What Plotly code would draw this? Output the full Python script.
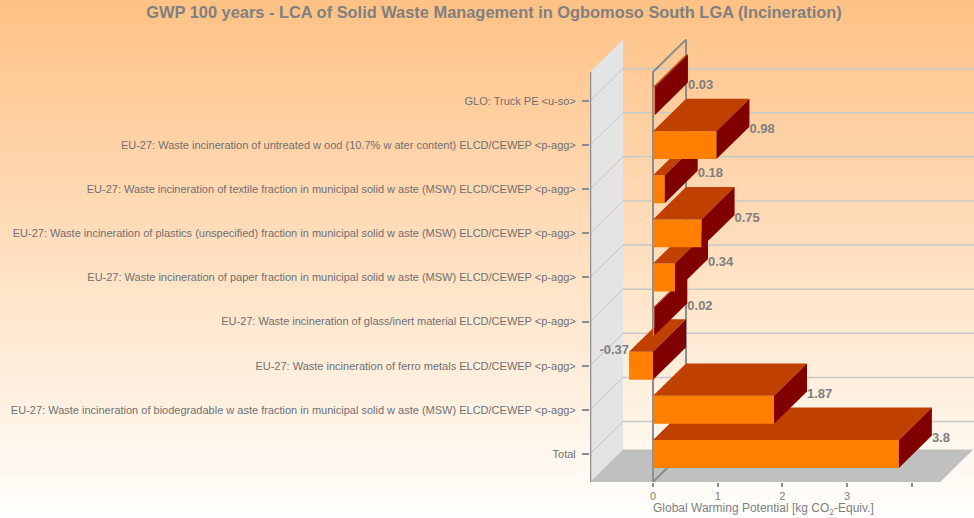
import plotly.graph_objects as go

# categories from bottom (Total) to top, as in the reference
categories = [
    "Total",
    "EU-27: Waste incineration of biodegradable w aste fraction in municipal solid w aste (MSW) ELCD/CEWEP <p-agg>",
    "EU-27: Waste incineration of ferro metals ELCD/CEWEP <p-agg>",
    "EU-27: Waste incineration of glass/inert material ELCD/CEWEP <p-agg>",
    "EU-27: Waste incineration of paper fraction in municipal solid w aste (MSW) ELCD/CEWEP <p-agg>",
    "EU-27: Waste incineration of plastics (unspecified) fraction in municipal solid w aste (MSW) ELCD/CEWEP <p-agg>",
    "EU-27: Waste incineration of textile fraction in municipal solid w aste (MSW) ELCD/CEWEP <p-agg>",
    "EU-27: Waste incineration of untreated w ood (10.7% w ater content) ELCD/CEWEP <p-agg>",
    "GLO: Truck PE <u-so>",
]
gwp_values = [3.8, 1.87, -0.37, 0.02, 0.34, 0.75, 0.18, 0.98, 0.03]
value_labels = ["3.8", "1.87", "-0.37", "0.02", "0.34", "0.75", "0.18", "0.98", "0.03"]
x_ticks = [0, 1, 2, 3, 4]
x_tick_text = ["0", "1", "2", "3", ""]

# pseudo-3D geometry (in axis units)
DX, DY = 0.51, 0.735      # depth offset
HALF = 0.317               # half bar thickness
X0, X1 = -0.974, 4.961     # x-axis range
Y0, Y1 = -0.635, 9.405     # y-axis range
TOP = 8.657                # front top of the walls
FLOOR_END = 4.44

FRONT, TOPFACE, SIDE = "#FF8000", "#C04000", "#800000"
GRID, AXIS, TXT = "#C8C8C8", "#8C8C8C", "#808080"

W, H = 974, 518
ML, MT, MB = 590, 39, 36
PW, PH = W - ML, H - MT - MB

fig = go.Figure()


def poly(xs, ys, color):
    fig.add_trace(go.Scatter(
        x=xs + [xs[0]], y=ys + [ys[0]], mode="lines", fill="toself",
        fillcolor=color, line=dict(width=0, color=color),
        hoverinfo="skip", showlegend=False))


def seg(xs, ys, color, width=1.5):
    fig.add_trace(go.Scatter(x=xs, y=ys, mode="lines",
                             line=dict(color=color, width=width),
                             hoverinfo="skip", showlegend=False))


# left wall and floor
poly([X0, X0 + DX, X0 + DX, X0], [Y0, Y0 + DY, TOP + DY, TOP], "#E4E4E4")
poly([X0, FLOOR_END, FLOOR_END + DX, X0 + DX], [Y0, Y0, Y0 + DY, Y0 + DY], "#C0C0C0")

# back-wall grid lines and the diagonals on the left wall
for k in range(len(categories)):
    seg([X0 + DX, X1], [k + DY, k + DY], GRID)
    seg([X0, X0 + DX], [k, k + DY], "#C4C4C4", 1)

# left axis line
seg([X0, X0], [Y0, TOP], AXIS, 2.5)

# zero plane frame
seg([0, 0, DX, DX], [Y0, TOP, TOP + DY, Y0 + DY], AXIS, 2)
seg([0, DX], [Y0, Y0 + DY], AXIS, 2)

# bars, bottom to top so upper bars overlap lower top faces
for k, v in enumerate(gwp_values):
    lo, hi = min(v, 0), max(v, 0)
    b, t = k - HALF, k + HALF
    poly([lo, hi, hi, lo], [b, b, t, t], FRONT)
    poly([lo, hi, hi + DX, lo + DX], [t, t, t + DY, t + DY], TOPFACE)
    poly([hi, hi + DX, hi + DX, hi], [b, b + DY, t + DY, t], SIDE)

# value labels
lab_x = [v + DX if v >= 0 else v for v in gwp_values]
lab_pos = ["middle right" if v >= 0 else "middle left" for v in gwp_values]
fig.add_trace(go.Scatter(
    x=lab_x, y=[k + 0.34 for k in range(len(gwp_values))],
    mode="text", text=value_labels, textposition=lab_pos,
    textfont=dict(family="Arial, Liberation Sans", size=13, color=TXT,
                  weight="bold"),
    hoverinfo="skip", showlegend=False))

# background gradient (peach at top to white at bottom)
n = 60
top_c, bot_c = (255, 194, 134), (255, 254, 252)
py0, py1 = -MB / PH, 1 + MT / PH
shapes = []
for i in range(n):
    f = i / (n - 1)
    r, g, bl = [int(round(top_c[j] + (bot_c[j] - top_c[j]) * f)) for j in range(3)]
    ya = py1 - (py1 - py0) * i / n
    yb = py1 - (py1 - py0) * (i + 1) / n
    shapes.append(dict(type="rect", xref="paper", yref="paper", layer="below",
                       x0=-ML / PW, x1=1.0, y0=yb - 0.002, y1=ya,
                       fillcolor=f"rgb({r},{g},{bl})", line=dict(width=0)))

fig.update_layout(
    width=W, height=H,
    margin=dict(l=ML, r=0, t=MT, b=MB),
    paper_bgcolor="#FFFEFC", plot_bgcolor="rgba(0,0,0,0)",
    shapes=shapes,
    font=dict(family="Arial, Liberation Sans", color=TXT),
    title=dict(text="GWP 100 years - LCA of Solid Waste Management in Ogbomoso South LGA (Incineration)",
               x=494 / W, xref="container", xanchor="center",
               y=1 - 12 / H, yref="container", yanchor="middle",
               font=dict(size=16.4, color=TXT, weight="bold")),
    xaxis=dict(range=[X0, X1], showgrid=False, zeroline=False, showline=False,
               tickvals=x_ticks, ticktext=x_tick_text, ticks="outside",
               ticklen=4, tickwidth=2, tickcolor=AXIS,
               tickfont=dict(size=11, color=TXT), fixedrange=True),
    yaxis=dict(range=[Y0, Y1], showgrid=False, zeroline=False, showline=False,
               tickvals=list(range(len(categories))), ticktext=categories,
               ticks="outside", ticklen=7, tickwidth=2, tickcolor=AXIS,
               ticklabelstandoff=4,
               tickfont=dict(size=11, color="#707070"), fixedrange=True),
    annotations=[dict(text="Global Warming Potential [kg CO<sub>2</sub>-Equiv.]",
                      x=1.70, xref="x", y=-27 / PH, yref="paper",
                      xanchor="center", yanchor="middle", showarrow=False,
                      font=dict(size=12, color=TXT))],
)

# drop the browser's default page margin so the figure fills the window
fig.write_html("out.html", config={"displayModeBar": False},
               post_script="document.body.style.margin='0';")
